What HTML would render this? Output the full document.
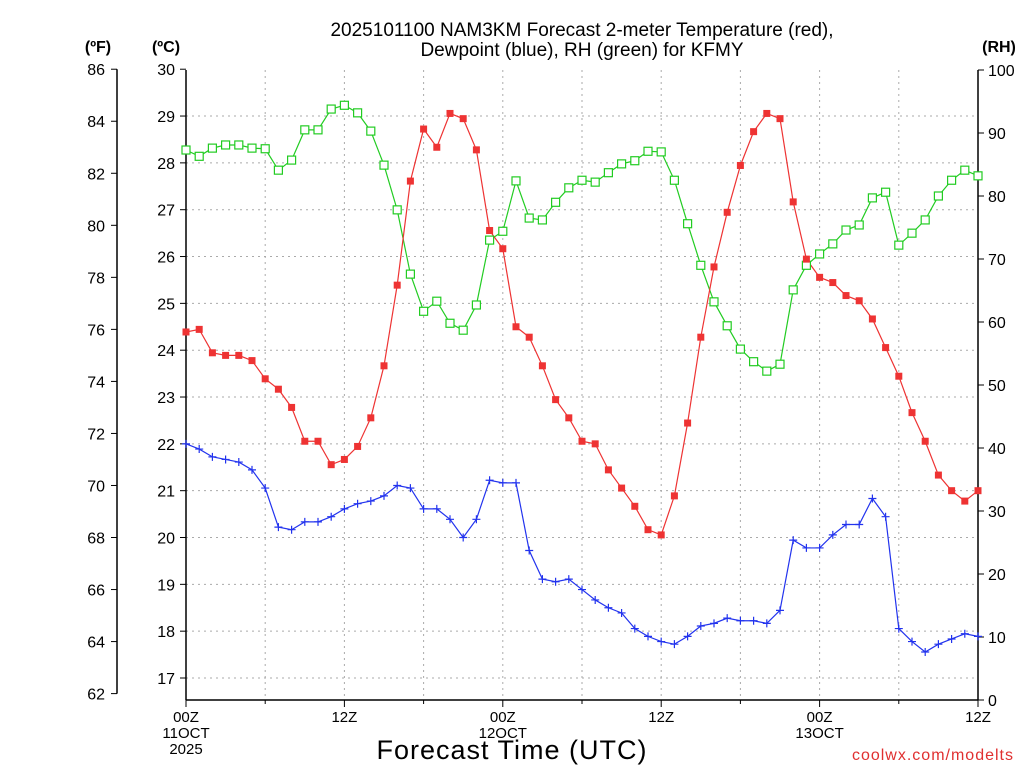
<!DOCTYPE html>
<html><head><meta charset="utf-8"><style>
body{margin:0;background:#fff;}
svg text{font-family:"Liberation Sans",sans-serif;}
</style></head><body>
<svg width="1024" height="768" xmlns="http://www.w3.org/2000/svg">
<g id="grid"></g>
<g id="axes"></g>
<g id="series"></g>
<text x="582" y="36" font-size="19" text-anchor="middle">2025101100 NAM3KM Forecast 2-meter Temperature (red),</text>
<text x="582" y="56" font-size="19" text-anchor="middle">Dewpoint (blue), RH (green) for KFMY</text>
<text x="98" y="52" font-size="16" font-weight="bold" text-anchor="middle">(ºF)</text>
<text x="166" y="52" font-size="16" font-weight="bold" text-anchor="middle">(ºC)</text>
<text x="999" y="52" font-size="16" font-weight="bold" text-anchor="middle">(RH)</text>
<text x="512" y="759" font-size="27" text-anchor="middle" letter-spacing="1">Forecast Time (UTC)</text>
<text x="1014" y="760" font-size="16" fill="#e03030" text-anchor="end" letter-spacing="1">coolwx.com/modelts</text>
</svg>
<script>
const hours = [0,1,2,3,4,5,6,7,8,9,10,11,12,13,14,15,16,17,18,19,20,21,22,23,24,25,26,27,28,29,30,31,32,33,34,35,36,37,38,39,40,41,42,43,44,45,46,47,48,49,50,51,52,53,54,55,56,57,58,59,60];
const tempF = [75.9,76.0,75.1,75.0,75.0,74.8,74.1,73.7,73.0,71.7,71.7,70.8,71.0,71.5,72.6,74.6,77.7,81.7,83.7,83.0,84.3,84.1,82.9,79.8,79.1,76.1,75.7,74.6,73.3,72.6,71.7,71.6,70.6,69.9,69.2,68.3,68.1,69.6,72.4,75.7,78.4,80.5,82.3,83.6,84.3,84.1,80.9,78.7,78.0,77.8,77.3,77.1,76.4,75.3,74.2,72.8,71.7,70.4,69.8,69.4,69.8];
const dewF = [71.6,71.4,71.1,71.0,70.9,70.6,69.9,68.4,68.3,68.6,68.6,68.8,69.1,69.3,69.4,69.6,70.0,69.9,69.1,69.1,68.7,68.0,68.7,70.2,70.1,70.1,67.5,66.4,66.3,66.4,66.0,65.6,65.3,65.1,64.5,64.2,64.0,63.9,64.2,64.6,64.7,64.9,64.8,64.8,64.7,65.2,67.9,67.6,67.6,68.1,68.5,68.5,69.5,68.8,64.5,64.0,63.6,63.9,64.1,64.3,64.2];
const rh = [87.3,86.3,87.6,88.1,88.1,87.6,87.5,84.1,85.7,90.5,90.5,93.8,94.4,93.2,90.3,84.9,77.8,67.6,61.7,63.3,59.8,58.7,62.7,73.0,74.4,82.4,76.5,76.2,79.0,81.3,82.5,82.2,83.7,85.1,85.6,87.1,87.0,82.5,75.6,69.0,63.2,59.4,55.7,53.7,52.2,53.3,65.1,69.0,70.8,72.4,74.6,75.4,79.7,80.6,72.2,74.1,76.2,80.0,82.5,84.1,83.2];
const fTicks = [62,64,66,68,70,72,74,76,78,80,82,84,86];
const cTicks = [17,18,19,20,21,22,23,24,25,26,27,28,29,30];
const rhTicks = [0,10,20,30,40,50,60,70,80,90,100];
const xTickHours = [0,12,24,36,48,60];
const xTickLabels = [["00Z","11OCT","2025"],["12Z"],["00Z","12OCT"],["12Z"],["00Z","13OCT"],["12Z"]];

const NS="http://www.w3.org/2000/svg";
const L=186,R=978,T=70,B=700;
const xS=h=>L+(h/60)*(R-L);
const yC=c=>678-(c-17)*46.83;
const yF=f=>yC((f-32)/1.8);
const yRH=v=>B-(v/100)*(B-T);
function mk(tag,attrs,parent){const e=document.createElementNS(NS,tag);for(const k in attrs)e.setAttribute(k,attrs[k]);parent.appendChild(e);return e;}
const grid=document.getElementById('grid'),axes=document.getElementById('axes'),series=document.getElementById('series');
// grid
for(let h=6;h<60;h+=6){const l=mk('line',{x1:xS(h),x2:xS(h),y1:T,y2:B,stroke:'#aaa','stroke-dasharray':'2,4'},grid);

}
cTicks.forEach(c=>{if(c===30)return;const l=mk('line',{x1:L,x2:R,y1:yC(c),y2:yC(c),stroke:'#aaa','stroke-dasharray':'2,4'},grid);

});
// frame
mk('line',{x1:L,x2:L,y1:T,y2:B,stroke:'#000','stroke-width':1.5},axes);
mk('line',{x1:R,x2:R,y1:T,y2:B,stroke:'#000','stroke-width':1.5},axes);
mk('line',{x1:L,x2:R,y1:B,y2:B,stroke:'#000','stroke-width':1.5},axes);
mk('line',{x1:117,x2:117,y1:yF(86),y2:yF(62),stroke:'#000','stroke-width':1.5},axes);
fTicks.forEach(f=>{const y=yF(f);mk('line',{x1:111,x2:117,y1:y,y2:y,stroke:'#000'},axes);
const t=mk('text',{x:105,y:y+6,'font-size':16,'text-anchor':'end'},axes);t.textContent=f;

});
cTicks.forEach(c=>{const y=yC(c);mk('line',{x1:L-6,x2:L,y1:y,y2:y,stroke:'#000'},axes);
const t=mk('text',{x:175,y:y+6,'font-size':16,'text-anchor':'end'},axes);t.textContent=c;

});
rhTicks.forEach(v=>{const y=yRH(v);mk('line',{x1:R,x2:R+6,y1:y,y2:y,stroke:'#000'},axes);
const t=mk('text',{x:988,y:y+6,'font-size':16},axes);t.textContent=v;

});
for(let h=0;h<=60;h+=6){mk('line',{x1:xS(h),x2:xS(h),y1:B,y2:B+(h%12===0?7:4),stroke:'#000'},axes);}
xTickHours.forEach((h,i)=>{xTickLabels[i].forEach((s,j)=>{const t=mk('text',{x:xS(h),y:722+j*16,'font-size':15,'text-anchor':'middle'},axes);t.textContent=s;

});});
// series
function line(vals,yf,color,name){const p=mk('polyline',{points:vals.map((v,i)=>xS(hours[i])+','+yf(v)).join(' '),fill:'none',stroke:color,'stroke-width':1.2},series);

}
line(rh,yRH,'#22cc22','rh-line');
line(tempF,yF,'#ee3333','temperature-line');
line(dewF,yF,'#2233ee','dewpoint-line');
rh.forEach((v,i)=>{const r=mk('rect',{x:xS(hours[i])-4,y:yRH(v)-4,width:8,height:8,fill:'#fff',stroke:'#22cc22','stroke-width':1.2},series);

});
tempF.forEach((v,i)=>{const r=mk('rect',{x:xS(hours[i])-3.5,y:yF(v)-3.5,width:7,height:7,fill:'#ee3333'},series);

});
dewF.forEach((v,i)=>{const x=xS(hours[i]),y=yF(v);const p=mk('path',{d:`M${x-4},${y}H${x+4}M${x},${y-4}V${y+4}`,stroke:'#2233ee','stroke-width':1.2},series);

});
</script>
</body></html>
